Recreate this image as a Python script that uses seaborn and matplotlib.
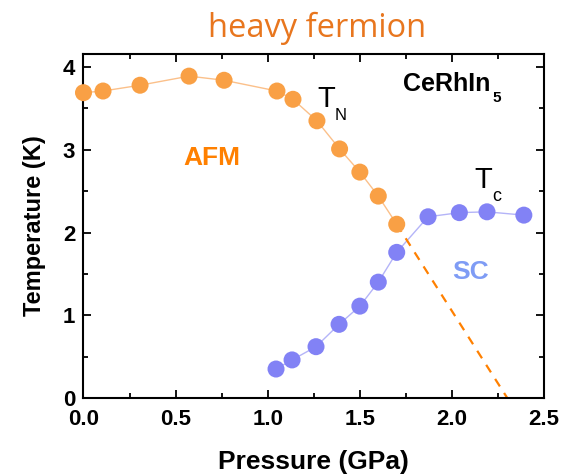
import matplotlib
matplotlib.use("Agg")
import matplotlib.pyplot as plt
import seaborn as sns
import pandas as pd
from matplotlib.ticker import MultipleLocator

# AFM (T_N) data
afm_p = [0.0, 0.106, 0.307, 0.573, 0.763, 1.05, 1.137, 1.267, 1.39, 1.50, 1.60, 1.70]
afm_t = [3.69, 3.71, 3.78, 3.89, 3.84, 3.71, 3.61, 3.35, 3.01, 2.73, 2.44, 2.10]
# SC (T_c) data
sc_p = [1.045, 1.132, 1.262, 1.387, 1.50, 1.60, 1.70, 1.87, 2.04, 2.19, 2.39]
sc_t = [0.35, 0.46, 0.62, 0.89, 1.11, 1.40, 1.76, 2.19, 2.24, 2.25, 2.21]
# extrapolated T_N
dash_p = [1.70, 2.30]
dash_t = [2.10, 0.0]

sns.set_theme(style="ticks")
plt.rcParams['font.family'] = ['Liberation Sans', 'DejaVu Sans']
plt.rcParams['text.color'] = 'black'
plt.rcParams['axes.labelcolor'] = 'black'
plt.rcParams['xtick.color'] = 'black'
plt.rcParams['ytick.color'] = 'black'

fig = plt.figure(figsize=(5.77, 4.76), dpi=100)
ax = fig.add_axes([0.1447, 0.1639, 0.943 - 0.1447, 0.887 - 0.1639])

afm = pd.DataFrame({"p": afm_p, "t": afm_t})
sc = pd.DataFrame({"p": sc_p, "t": sc_t})
dash = pd.DataFrame({"p": dash_p, "t": dash_t})

orange_m = "#F9A045"
blue_m = "#8282F5"

sns.lineplot(data=afm, x="p", y="t", ax=ax, color="#FBC08A", lw=1.0, sort=False)
sns.lineplot(data=sc, x="p", y="t", ax=ax, color="#B4B4F8", lw=1.0, sort=False)
sns.lineplot(data=dash, x="p", y="t", ax=ax, color="#FF8000", lw=1.6, sort=False,
             linestyle=(0, (4, 3.5)))
sns.scatterplot(data=afm, x="p", y="t", ax=ax, color=orange_m, s=150,
                edgecolor="none", clip_on=False, zorder=5)
sns.scatterplot(data=sc, x="p", y="t", ax=ax, color=blue_m, s=150,
                edgecolor="none", clip_on=False, zorder=5)

ax.set_xlim(0, 2.5)
ax.set_ylim(0, 4.16)
ax.xaxis.set_minor_locator(MultipleLocator(0.25))
ax.yaxis.set_minor_locator(MultipleLocator(0.5))
ax.set_xticks([0, 0.5, 1.0, 1.5, 2.0, 2.5])
ax.set_xticklabels(["0.0", "0.5", "1.0", "1.5", "2.0", "2.5"])
ax.set_yticks([0, 1, 2, 3, 4])
ax.set_yticklabels(["0", "1", "2", "3", "4"])
ax.tick_params(which="both", direction="in", top=True, right=True, width=1.3, color="black")
ax.tick_params(which="major", length=6, labelsize=16)
ax.tick_params(which="minor", length=3.5)
ax.tick_params(axis="x", which="major", pad=8)
ax.tick_params(axis="y", which="major", pad=6)
for lbl in ax.get_xticklabels() + ax.get_yticklabels():
    lbl.set_fontweight("bold")
for s in ax.spines.values():
    s.set_linewidth(1.5)
    s.set_color("black")

ax.set_xlabel("Pressure (GPa)", fontsize=19, fontweight="bold", labelpad=14)
ax.set_ylabel("Temperature (K)", fontsize=17, fontweight="bold", labelpad=12)

# T_N label
ax.text(1.32, 3.61, "T", fontsize=21, ha="center", va="center")
ax.text(1.395, 3.41, "N", fontsize=12, ha="center", va="center")
# T_c label
ax.text(2.17, 2.63, "T", fontsize=21, ha="center", va="center")
ax.text(2.245, 2.43, "c", fontsize=13, ha="center", va="center")
# compound name
ax.text(1.735, 3.71, "CeRhIn", fontsize=18, fontweight="bold", ha="left", va="baseline")
ax.text(2.218, 3.577, "5", fontsize=11, fontweight="bold", ha="left", va="baseline")
# phase labels
ax.text(0.696, 2.90, "AFM", fontsize=19, fontweight="bold", color="#FF8000", ha="center", va="center")
ax.text(2.10, 1.52, "SC", fontsize=19, fontweight="bold", color="#7F9CF5", ha="center", va="center")

fig.text(317 / 577, 1 - 37 / 476, "heavy fermion", fontsize=23.5, color="#E8761E",
         ha="center", va="baseline", family=["Open Sans", "DejaVu Sans"])

fig.savefig("out.png", dpi=100)
